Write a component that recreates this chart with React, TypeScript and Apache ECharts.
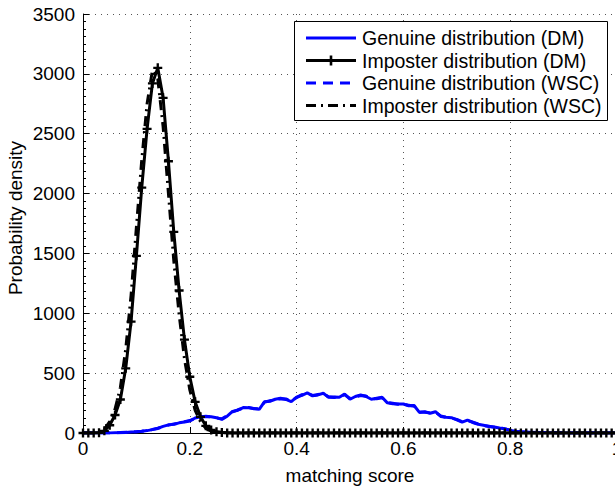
import React, { useEffect, useRef } from "react";
import * as echarts from "echarts";

// matching score bins
const scores = [
  0, 0.01, 0.02, 0.03, 0.04, 0.05, 0.06, 0.07, 0.08, 0.09,
  0.1, 0.11, 0.12, 0.13, 0.14, 0.15, 0.16, 0.17, 0.18, 0.19,
  0.2, 0.21, 0.22, 0.23, 0.24, 0.25, 0.26, 0.27, 0.28, 0.29,
  0.3, 0.31, 0.32, 0.33, 0.34, 0.35, 0.36, 0.37, 0.38, 0.39,
  0.4, 0.41, 0.42, 0.43, 0.44, 0.45, 0.46, 0.47, 0.48, 0.49,
  0.5, 0.51, 0.52, 0.53, 0.54, 0.55, 0.56, 0.57, 0.58, 0.59,
  0.6, 0.61, 0.62, 0.63, 0.64, 0.65, 0.66, 0.67, 0.68, 0.69,
  0.7, 0.71, 0.72, 0.73, 0.74, 0.75, 0.76, 0.77, 0.78, 0.79,
  0.8, 0.81, 0.82, 0.83, 0.84, 0.85, 0.86, 0.87, 0.88, 0.89,
  0.9, 0.91, 0.92, 0.93, 0.94, 0.95, 0.96, 0.97, 0.98, 0.99,
  1.0,
];

const genuineDM = [
  0, 0, 0, 0, 0, 1, 2, 3, 5, 8,
  10, 14, 20, 28, 38, 55, 68, 72, 85, 92,
  100, 125, 136, 138, 136, 128, 114, 140, 180, 190,
  212, 210, 205, 198, 262, 265, 282, 290, 280, 262,
  300, 315, 335, 310, 318, 332, 298, 300, 298, 326,
  282, 305, 317, 305, 282, 290, 298, 252, 245, 243,
  242, 228, 230, 172, 178, 165, 178, 138, 132, 128,
  110, 90, 108, 88, 73, 65, 55, 50, 42, 35,
  22, 15, 10, 7, 6, 4, 3, 2, 2, 1,
  1, 0, 0, 0, 0, 0, 0, 0, 0, 0,
  0,
];

const imposterDM = [
  0, 0, 0, 2, 18, 65, 150, 280, 540, 930,
  1480, 2050, 2540, 2920, 3050, 2800, 2270, 1680, 1190, 780,
  470, 260, 135, 60, 25, 10, 4, 1, 0, 0,
  0, 0, 0, 0, 0, 0, 0, 0, 0, 0,
  0, 0, 0, 0, 0, 0, 0, 0, 0, 0,
  0, 0, 0, 0, 0, 0, 0, 0, 0, 0,
  0, 0, 0, 0, 0, 0, 0, 0, 0, 0,
  0, 0, 0, 0, 0, 0, 0, 0, 0, 0,
  0, 0, 0, 0, 0, 0, 0, 0, 0, 0,
  0, 0, 0, 0, 0, 0, 0, 0, 0, 0,
  0,
];

const genuineWSC = [
  0, 0, 0, 0, 1, 1, 2, 4, 6, 8,
  11, 15, 21, 30, 40, 52, 66, 75, 83, 95,
  104, 122, 133, 140, 134, 125, 118, 145, 176, 194,
  208, 214, 202, 203, 258, 270, 278, 286, 284, 266,
  296, 320, 330, 314, 322, 328, 302, 296, 302, 320,
  288, 300, 313, 309, 286, 286, 294, 256, 248, 240,
  238, 232, 226, 176, 174, 168, 174, 142, 130, 124,
  114, 94, 104, 90, 76, 62, 57, 48, 44, 33,
  24, 16, 11, 8, 6, 5, 4, 3, 2, 2,
  1, 1, 1, 1, 1, 1, 1, 1, 1, 1,
  1,
];

const imposterWSC = [
  0, 0, 1, 5, 30, 95, 200, 380, 700, 1150,
  1720, 2280, 2750, 3030, 2960, 2560, 2000, 1440, 990, 620,
  360, 190, 95, 40, 15, 6, 2, 0, 0, 0,
  0, 0, 0, 0, 0, 0, 0, 0, 0, 0,
  0, 0, 0, 0, 0, 0, 0, 0, 0, 0,
  0, 0, 0, 0, 0, 0, 0, 0, 0, 0,
  0, 0, 0, 0, 0, 0, 0, 0, 0, 0,
  0, 0, 0, 0, 0, 0, 0, 0, 0, 0,
  0, 0, 0, 0, 0, 0, 0, 0, 0, 0,
  0, 0, 0, 0, 0, 0, 0, 0, 0, 0,
  0,
];

const seriesNames = [
  "Genuine distribution (DM)",
  "Imposter distribution (DM)",
  "Genuine distribution (WSC)",
  "Imposter distribution (WSC)",
];

const FONT = "'Liberation Sans', Arial, Helvetica, sans-serif";
const PLUS = "path://M3.7,0H6.3V3.7H10V6.3H6.3V10H3.7V6.3H0V3.7H3.7Z";

const BLUE = "#0000ff";
const BLACK = "#000000";
const LW = 3;
const DASH = [10, 7];
const DASHDOT = [10, 5, 2, 5];

function pairs(vals: number[]) {
  return scores.map((x, i) => [x, vals[i]]);
}

export default function App() {
  const ref = useRef<HTMLDivElement>(null);

  useEffect(() => {
    document.body.style.margin = "0";
    const chart = echarts.init(ref.current!, null, { renderer: "svg" });
    const gridDot = { color: "#555", width: 1, type: [1, 5] as number[] };

    // legend (drawn manually, MATLAB style box)
    const lgX0 = 294, lgY0 = 21, lgW = 313, lgH = 99;
    const rowY = [38, 60.5, 83, 105.5];
    const lx1 = 306, lx2 = 356, tx = 362;
    const legendStyles = [
      { stroke: BLUE, lineDash: null as number[] | null, plus: false },
      { stroke: BLACK, lineDash: null as number[] | null, plus: true },
      { stroke: BLUE, lineDash: DASH, plus: false },
      { stroke: BLACK, lineDash: DASHDOT, plus: false },
    ];
    const legendEls: any[] = [
      {
        type: "rect",
        shape: { x: lgX0 + 0.5, y: lgY0 + 0.5, width: lgW, height: lgH },
        style: { fill: "#fff", stroke: "#000", lineWidth: 1 },
        z: 100,
      },
    ];
    seriesNames.forEach((name, i) => {
      const s = legendStyles[i];
      legendEls.push({
        type: "line",
        shape: { x1: lx1, y1: rowY[i], x2: lx2, y2: rowY[i] },
        style: { stroke: s.stroke, lineWidth: LW, lineDash: s.lineDash || undefined },
        z: 101,
      });
      if (s.plus) {
        const cx = (lx1 + lx2) / 2;
        legendEls.push({
          type: "line",
          shape: { x1: cx, y1: rowY[i] - 5, x2: cx, y2: rowY[i] + 5 },
          style: { stroke: s.stroke, lineWidth: 2.6 },
          z: 101,
        });
      }
      legendEls.push({
        type: "text",
        x: tx,
        y: rowY[i],
        style: {
          text: name,
          fill: "#000",
          font: `19.5px ${FONT}`,
          align: "left",
          verticalAlign: "middle",
        },
        z: 101,
      });
    });

    chart.setOption({
      animation: false,
      backgroundColor: "#fff",
      grid: {
        left: 83,
        right: -2,
        top: 14,
        bottom: 55,
        containLabel: false,
        outerBoundsMode: "none",
      },
      xAxis: {
        type: "value",
        min: 0,
        max: 1,
        interval: 0.2,
        axisLine: { show: true, lineStyle: { color: "#000", width: 1 } },
        axisTick: { show: true, inside: true, length: 6, lineStyle: { color: "#000" } },
        axisLabel: {
          color: "#000",
          fontSize: 19,
          fontFamily: FONT,
          margin: 6,
          formatter: (v: number) => String(v),
        },
        splitLine: { show: true, lineStyle: gridDot },
      },
      yAxis: {
        type: "value",
        min: 0,
        max: 3500,
        interval: 500,
        axisLine: { show: true, lineStyle: { color: "#000", width: 1 } },
        axisTick: { show: true, inside: true, length: 6, lineStyle: { color: "#000" } },
        minorTick: { show: true, splitNumber: 8, length: 3, lineStyle: { color: "#000" } },
        axisLabel: {
          color: "#000",
          fontSize: 19,
          fontFamily: FONT,
          margin: 8,
          formatter: (v: number) => String(v),
        },
        splitLine: { show: true, lineStyle: gridDot },
      },
      series: [
        {
          name: seriesNames[0],
          type: "line",
          data: pairs(genuineDM),
          showSymbol: false,
          symbol: "none",
          lineStyle: { color: BLUE, width: LW, type: "solid" },
          itemStyle: { color: BLUE },
        },
        {
          name: seriesNames[1],
          type: "line",
          data: pairs(imposterDM),
          symbol: PLUS,
          symbolSize: 9,
          showSymbol: true,
          lineStyle: { color: BLACK, width: LW, type: "solid" },
          itemStyle: { color: BLACK },
        },
        {
          name: seriesNames[2],
          type: "line",
          data: pairs(genuineWSC),
          showSymbol: false,
          symbol: "none",
          lineStyle: { color: BLUE, width: LW, type: DASH },
          itemStyle: { color: BLUE },
        },
        {
          name: seriesNames[3],
          type: "line",
          data: pairs(imposterWSC),
          showSymbol: false,
          symbol: "none",
          lineStyle: { color: BLACK, width: LW, type: DASHDOT },
          itemStyle: { color: BLACK },
        },
      ],
      graphic: [
        {
          type: "text",
          x: 350,
          y: 475,
          style: {
            text: "matching score",
            fill: "#000",
            font: `19px ${FONT}`,
            align: "center",
            verticalAlign: "middle",
          },
        },
        {
          type: "text",
          x: 15,
          y: 218,
          rotation: Math.PI / 2,
          style: {
            text: "Probability density",
            fill: "#000",
            font: `19px ${FONT}`,
            align: "center",
            verticalAlign: "middle",
          },
        },
        ...legendEls,
      ],
    });
    return () => chart.dispose();
  }, []);

  return <div ref={ref} style={{ width: 615, height: 488 }} />;
}
